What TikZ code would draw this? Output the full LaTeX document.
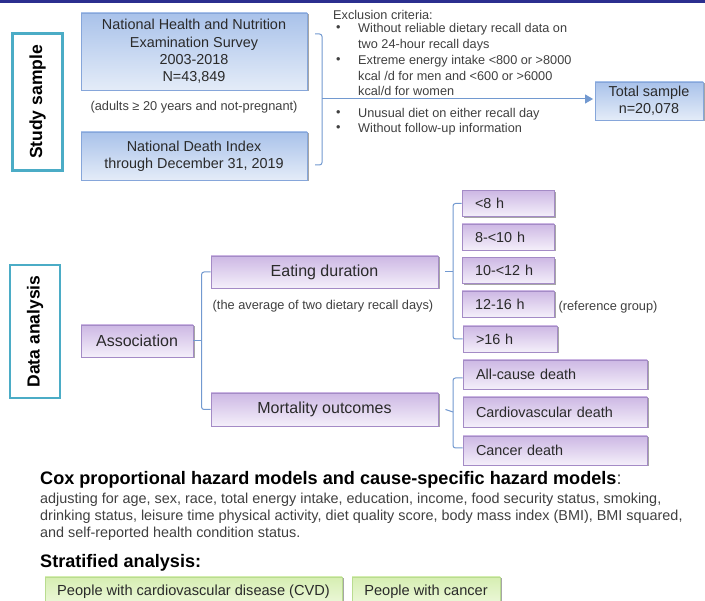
\documentclass[tikz,border=0pt]{standalone}
\usepackage{fontspec}
\setmainfont{Liberation Sans}
\usetikzlibrary{shadows,arrows.meta}
\definecolor{blueTop}{HTML}{E4ECF8}
\definecolor{blueBot}{HTML}{A9C2EA}
\definecolor{blueBorder}{HTML}{86A6DA}
\definecolor{purpTop}{HTML}{F4EFFA}
\definecolor{purpBot}{HTML}{CDB8E4}
\definecolor{purpBorder}{HTML}{A48BC6}
\definecolor{greenTop}{HTML}{EFF9DE}
\definecolor{greenBot}{HTML}{D6EEB2}
\definecolor{greenBorder}{HTML}{B9DC8F}
\definecolor{tealc}{HTML}{4BACC6}
\definecolor{connc}{HTML}{7299D0}
\definecolor{txt}{HTML}{2A2A2A}
\definecolor{gtxt}{HTML}{404040}
\definecolor{navy}{HTML}{2B2F8F}
\tikzset{
  shad/.style={drop shadow={shadow xshift=1.5pt,shadow yshift=-1.5pt,opacity=0.35,fill=black}},
  bluebox/.style={shad,draw=blueBorder,line width=0.9pt,top color=blueBot,bottom color=blueTop,inner sep=0pt,align=center,text=txt,font=\fontsize{14.4}{17.3}\selectfont},
  purpbox/.style={shad,draw=purpBorder,line width=0.9pt,top color=purpBot,bottom color=purpTop,inner sep=0pt,text=txt},
  bigpurp/.style={purpbox,font=\fontsize{16}{19}\selectfont},
  smallpurp/.style={purpbox,font=\fontsize{14.4}{17}\selectfont,text width=#1,align=left,inner xsep=13pt},
  greenbox/.style={shad,draw=greenBorder,line width=0.9pt,top color=greenBot,bottom color=greenTop,inner sep=0pt,text=txt,font=\fontsize{14.6}{17}\selectfont},
  sidebox/.style={draw=tealc,line width=2.8pt,fill=white,inner sep=0pt},
  sidetext/.style={rotate=90,font=\bfseries\fontsize{17.5}{20}\selectfont,text=black},
  note/.style={text=gtxt,font=\fontsize{12.8}{15}\selectfont,inner sep=0pt},
  excl/.style={text=gtxt,font=\fontsize{12.7}{15}\selectfont,inner sep=0pt,anchor=west},
  conn/.style={draw=connc,line width=1pt,rounded corners=2.5pt},
  head/.style={text=black,font=\bfseries\fontsize{18.1}{21}\selectfont,inner sep=0pt,anchor=west},
  body/.style={text=gtxt,font=\fontsize{14.4}{17}\selectfont,inner sep=0pt,anchor=west},
}
\begin{document}
\begin{tikzpicture}[x=1pt,y=-1pt]
\useasboundingbox[fill=white] (0,0) rectangle (705,601);
\draw[navy,line width=3pt] (0,1.5) -- (705,1.5);

% Study sample
\node[sidebox,minimum width=50pt,minimum height=137pt] (study) at (37.5,102) {};
\node[sidetext] (studyt) at (study.center) {Study sample};

\node[bluebox,minimum width=226pt,minimum height=77pt] (nhanes) at (194,51.5)
  {National Health and Nutrition\\Examination Survey\\2003-2018\\N=43,849};
\node[note] (adults) at (194,107) {(adults ≥ 20 years and not-pregnant)};
\node[bluebox,minimum width=226pt,minimum height=48pt] (ndi) at (194,156)
  {National Death Index\\through December 31, 2019};

\coordinate (bt) at (322,34);
\coordinate (bb) at (322,165);
\coordinate (bm) at (322,99);
\draw[conn] ([xshift=-7pt]bt) -- (bt) -- (bb) -- ([xshift=-7pt]bb);

\node[excl] (ex0) at (333,15) {Exclusion criteria:};
\node[excl] (b1) at (336,29) {•};
\node[excl] (ex1) at (358,29) {Without reliable dietary recall data on};
\node[excl] (ex2) at (358,45) {two 24-hour recall days};
\node[excl] (b2) at (336,61) {•};
\node[excl] (ex3) at (358,61) {Extreme energy intake <800 or >8000};
\node[excl] (ex4) at (358,76) {kcal /d for men and <600 or >6000};
\node[excl] (ex5) at (358,91) {kcal/d for women};
\node[excl] (b3) at (336,114) {•};
\node[excl] (ex6) at (358,114) {Unusual diet on either recall day};
\node[excl] (b4) at (336,129) {•};
\node[excl] (ex7) at (358,129) {Without follow-up information};

\node[bluebox,minimum width=108pt,minimum height=38pt] (total) at (649,101)
  {Total sample\\n=20,078};
\draw[conn,-{Triangle[length=8pt,width=9pt]},shorten >=1.5pt] (bm) -- (bm -| total.west);

% Data analysis
\node[sidebox,minimum width=50pt,minimum height=133pt] (da) at (35,331.5) {};
\node[sidetext] (dat) at (da.center) {Data analysis};

\node[bigpurp,minimum width=112pt,minimum height=32pt] (assoc) at (137,341) {Association};
\node[bigpurp,minimum width=227pt,minimum height=32pt] (eat) at (324.5,272) {Eating duration};
\node[note] (avg) at (323,306) {(the average of two dietary recall days)};
\node[bigpurp,minimum width=227pt,minimum height=33pt] (mort) at (324.5,409.5) {Mortality outcomes};

\coordinate (av) at ([xshift=-9pt]eat.west);
\draw[conn] (eat.west) -- (av) |- (mort.west);
\draw[conn] (assoc.east) -- (assoc.east -| av);

% Duration categories
\node[smallpurp=66pt,minimum height=26pt] (d1) at (508,203.5) {<8 h};
\node[smallpurp=66pt,minimum height=26pt] (d2) at (508,237) {8-<10 h};
\node[smallpurp=66pt,minimum height=26pt] (d3) at (508,270.5) {10-<12 h};
\node[smallpurp=66pt,minimum height=26pt] (d4) at (508,304) {12-16 h};
\node[smallpurp=68pt,minimum height=26pt] (d5) at (510,339) {>16 h};
\node[note] (ref) at (608,307) {(reference group)};

\coordinate (dv) at (453,272);
\draw[conn] (d1.west) -- (d1.west -| dv) -- (d5.west -| dv) -- (d5.west);
\draw[conn] ([xshift=7pt]eat.east) -- (dv);

% Mortality categories
\node[smallpurp=158pt,minimum height=29pt] (m1) at (555,374.5) {All-cause death};
\node[smallpurp=158pt,minimum height=30pt] (m2) at (555,412) {Cardiovascular death};
\node[smallpurp=158pt,minimum height=29pt] (m3) at (555,450.5) {Cancer death};

\coordinate (mv) at (453,412);
\draw[conn] ([yshift=-3.5pt]m1.west) -- ([yshift=-3.5pt]m1.west -| mv) -- ([yshift=2.5pt]m3.west -| mv) -- ([yshift=2.5pt]m3.west);
\draw[conn] ([xshift=7pt]mort.east) -- (mv);

% Bottom texts
\node[head] (cox) at (40,480) {Cox proportional hazard models and cause-specific hazard models\textmd{\color{gtxt}:}};
\node[body] (l1) at (40,500) {adjusting for age, sex, race, total energy intake, education, income, food security status, smoking,};
\node[body] (l2) at (40,517) {drinking status, leisure time physical activity, diet quality score, body mass index (BMI), BMI squared,};
\node[body] (l3) at (40,534) {and self-reported health condition status.};
\node[head] (strat) at (40,563) {Stratified analysis:};

\node[greenbox,minimum width=297pt,minimum height=30pt] (g1) at (193.5,592) {People with cardiovascular disease (CVD)};
\node[greenbox,minimum width=148pt,minimum height=30pt] (g2) at (426,592) {People with cancer};
\end{tikzpicture}
\end{document}
